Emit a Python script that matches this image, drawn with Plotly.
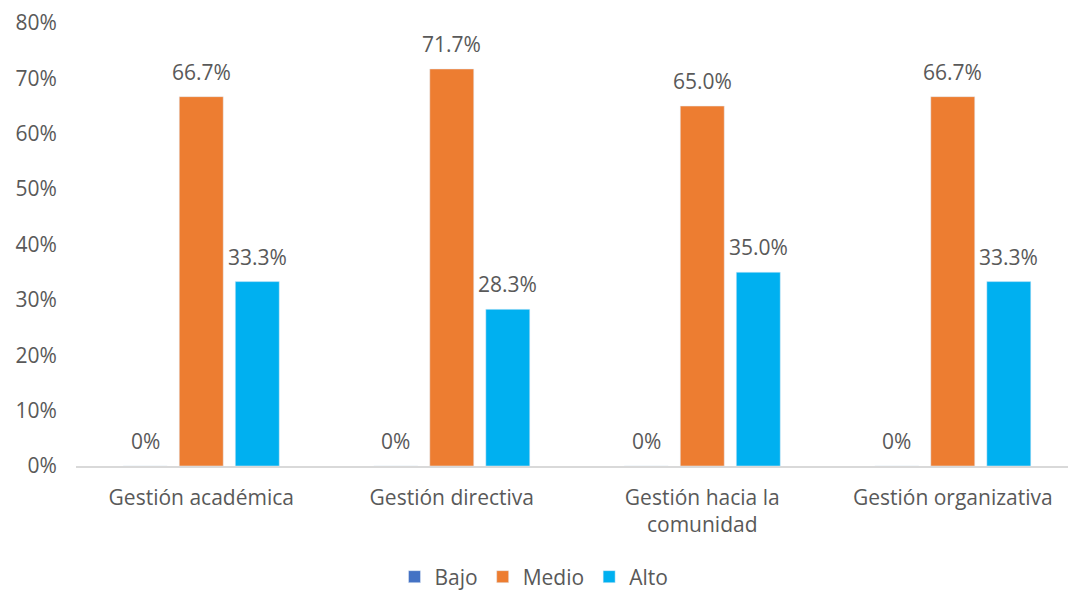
import plotly.graph_objects as go

categories = ["Gestión académica", "Gestión directiva", "Gestión hacia la<br>comunidad", "Gestión organizativa"]
bajo = [0.0, 0.0, 0.0, 0.0]
medio = [0.667, 0.717, 0.650, 0.667]
alto = [0.333, 0.283, 0.350, 0.333]
y_ticks = [0, 0.1, 0.2, 0.3, 0.4, 0.5, 0.6, 0.7, 0.8]

series = [("Bajo", bajo, "#4472C4"), ("Medio", medio, "#ED7D31"), ("Alto", alto, "#00B0F0")]

def lab(v):
    return "0%" if v == 0 else f"{v*100:.1f}%"

FONT = "Open Sans"
GREY = "#595959"
FS = 21
W, H = 1068, 591
ML, MR, MT, MB = 76, 0, 23, 125
X_RANGE = [-0.5, 3.46]
BARGAP, GROUPGAP = 0.329, 0.215

fig = go.Figure()
for name, vals, col in series:
    fig.add_trace(go.Bar(x=categories, y=vals, name=name, marker_color=col))

# data labels above each bar (pixel offset derived from bar geometry)
cat_px = (W - ML - MR) / (X_RANGE[1] - X_RANGE[0])
slot_px = cat_px * (1 - BARGAP) / len(series)
anns = []
for i, (name, vals, col) in enumerate(series):
    dx = (i - (len(series) - 1) / 2) * slot_px
    for c, v in zip(categories, vals):
        anns.append(dict(x=c, y=v, text=lab(v), showarrow=False, xshift=dx, yshift=25,
                         yanchor="middle", xanchor="center",
                         font=dict(size=FS, color=GREY, family=FONT)))

fig.update_layout(
    width=W, height=H,
    margin=dict(l=ML, r=MR, t=MT, b=MB),
    paper_bgcolor="white", plot_bgcolor="white",
    barmode="group", bargap=BARGAP, bargroupgap=GROUPGAP,
    font=dict(family=FONT, size=FS, color=GREY),
    annotations=anns,
    showlegend=True,
    legend=dict(orientation="h", x=0.5, xanchor="center", xref="container",
                y=1 - 577 / H, yanchor="middle", yref="container",
                font=dict(size=FS, color=GREY), itemwidth=30, traceorder="normal"),
    xaxis=dict(range=X_RANGE, showline=True, linecolor="#D9D9D9", linewidth=1.5, ticks="outside",
               ticklen=12, tickcolor="rgba(0,0,0,0)", tickfont=dict(size=FS, color=GREY),
               automargin=False),
    yaxis=dict(range=[0, 0.8], tickvals=y_ticks, tickformat=".0%", showgrid=False,
               zeroline=False, showline=False, ticks="outside", ticklen=14,
               tickcolor="rgba(0,0,0,0)", tickfont=dict(size=FS, color=GREY),
               automargin=False),
)

fig.write_html("out.html", config={"displayModeBar": False},
               post_script="document.body.style.margin='0';document.body.style.overflow='hidden';")
